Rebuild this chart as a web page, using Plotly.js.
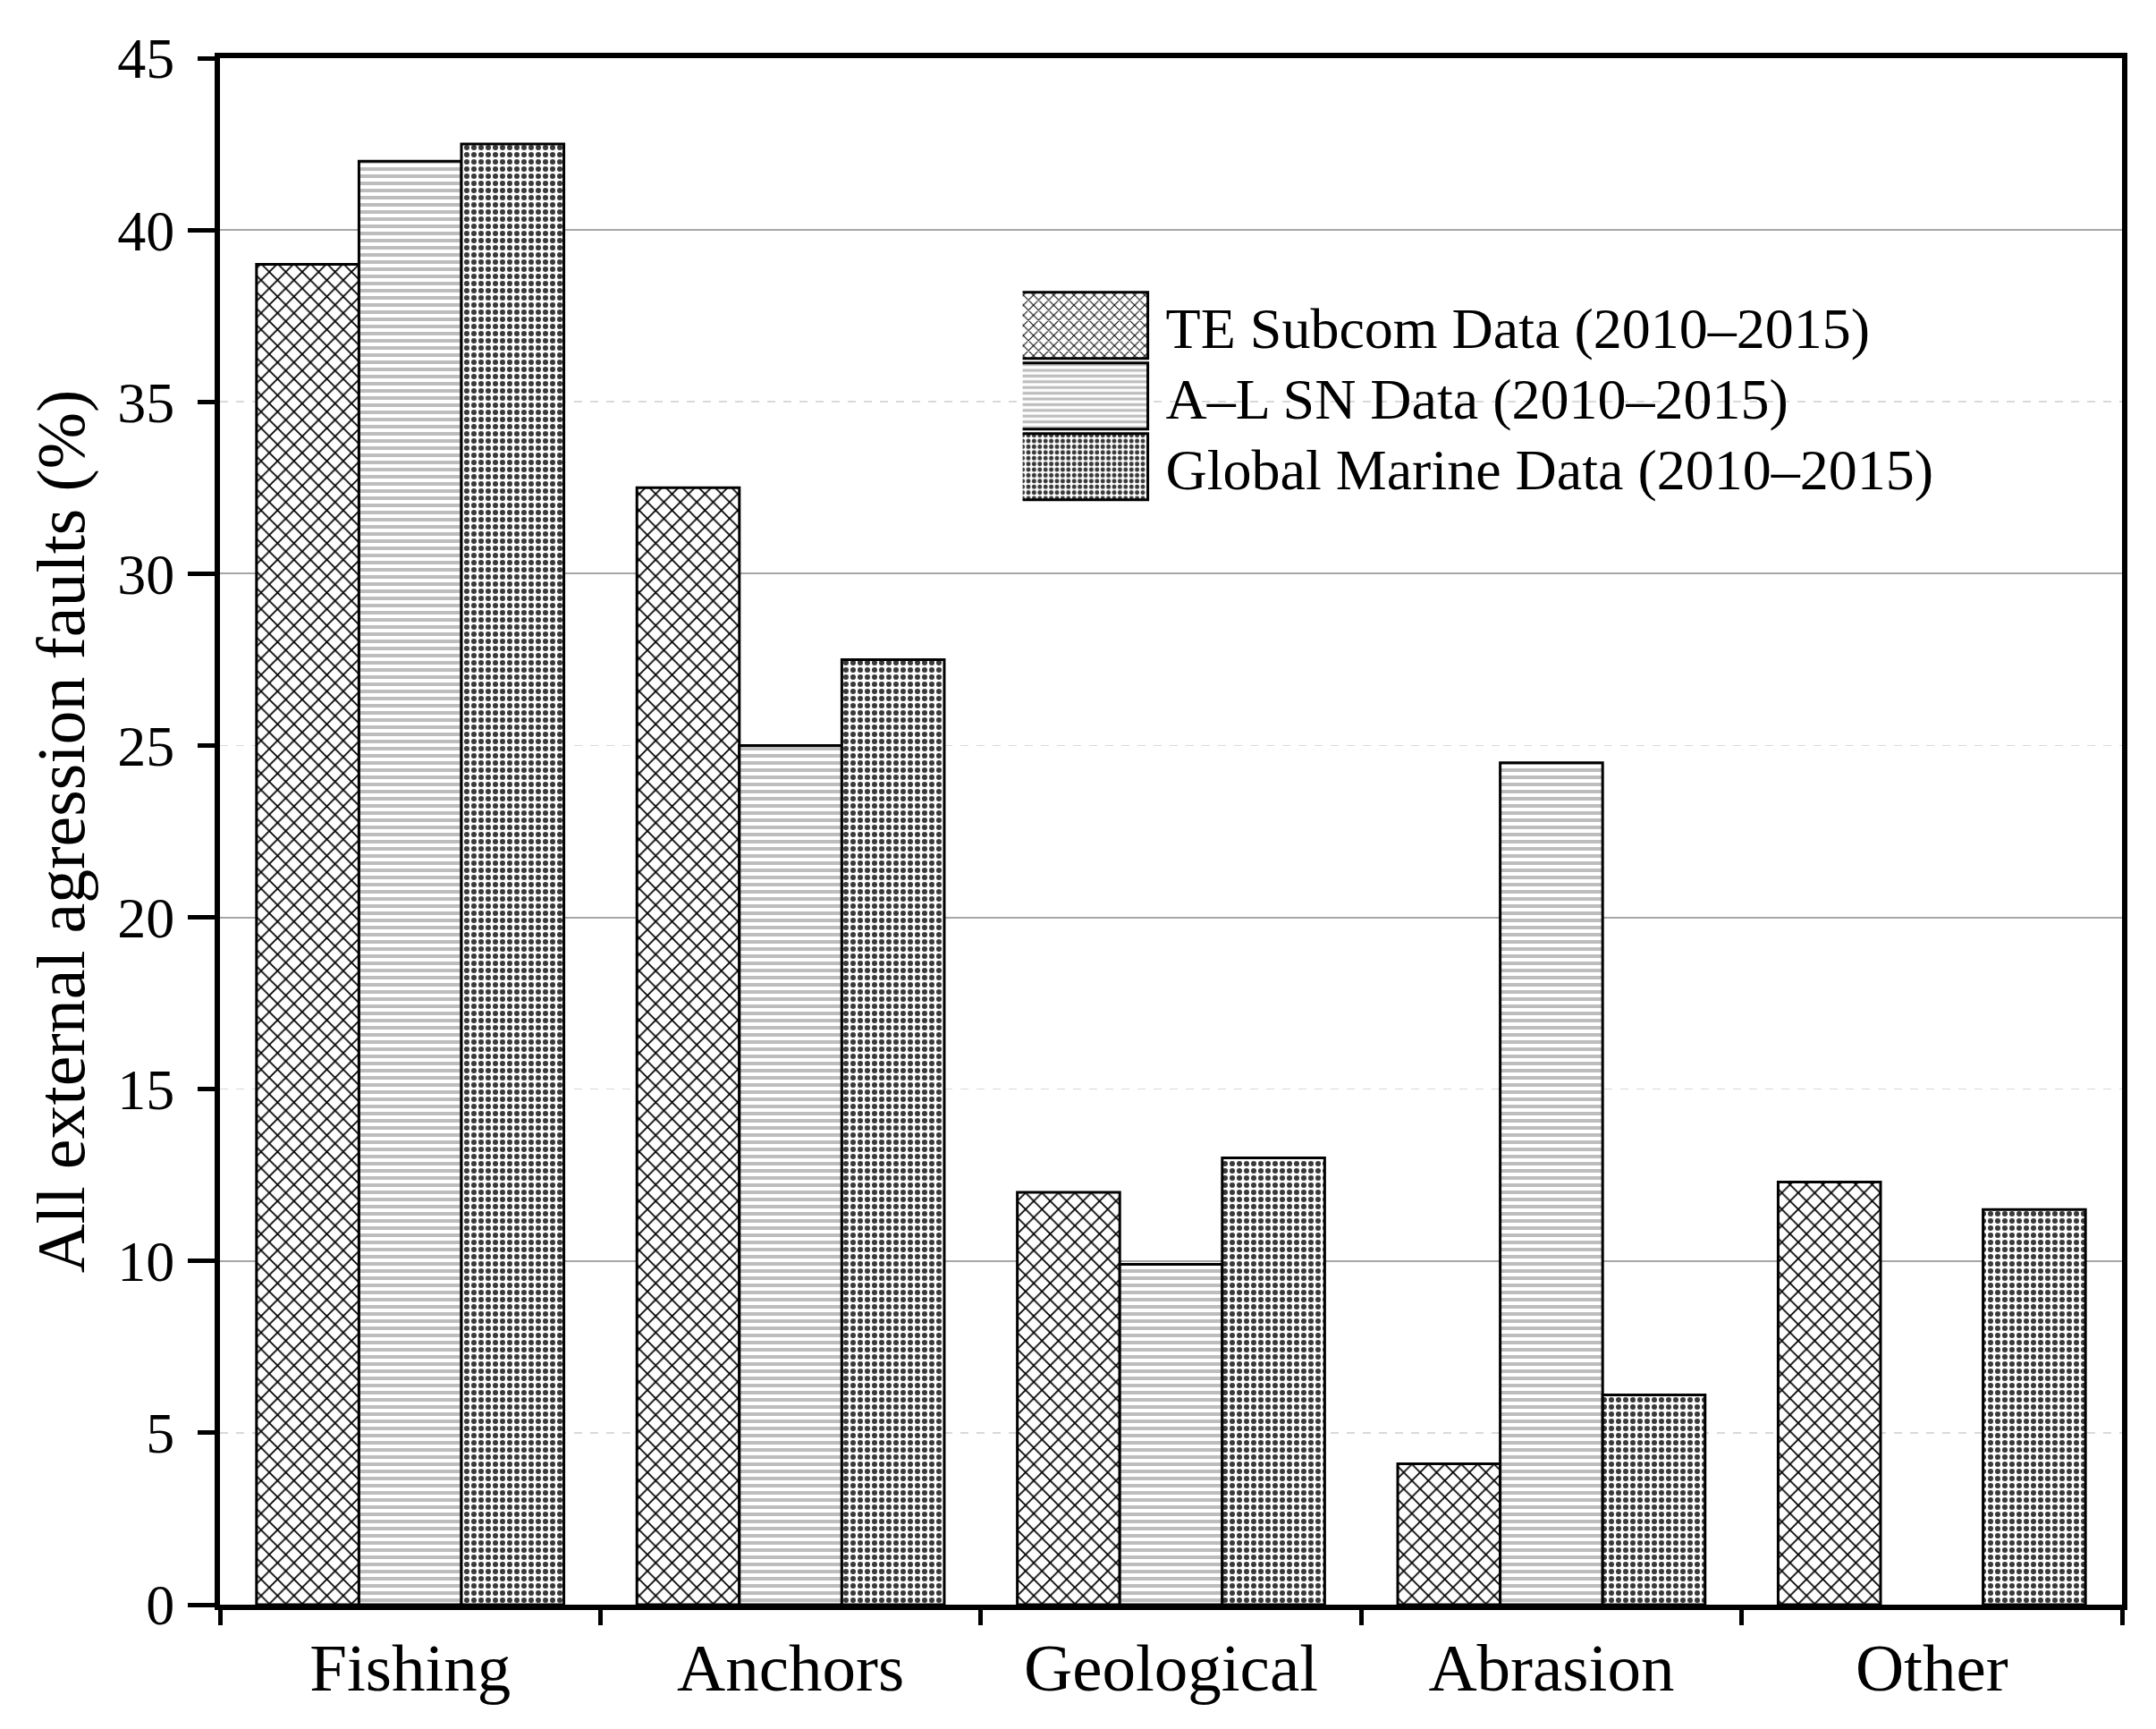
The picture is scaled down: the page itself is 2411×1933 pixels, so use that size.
<!DOCTYPE html>
<html>
<head>
<meta charset="utf-8">
<script src="https://cdn.plot.ly/plotly-3.0.1.min.js"></script>
<style>
  html, body { margin: 0; padding: 0; background: #ffffff; }
  #chart { width: 2411px; height: 1933px; }
</style>
</head>
<body>
<div id="chart"></div>
<script>
// ---- data ----
const categories = ['Fishing', 'Anchors', 'Geological', 'Abrasion', 'Other'];
const seriesNames = ['TE Subcom Data (2010\u20132015)', 'A\u2013L SN Data (2010\u20132015)', 'Global Marine Data (2010\u20132015)'];
const teSubcom = [39, 32.5, 12, 4.1, 12.3];
const alSN = [42, 25, 9.9, 24.5, null];
const globalMarine = [42.5, 27.5, 13, 6.1, 11.5];
const yLabelTicks = [0, 5, 10, 15, 20, 25, 30, 35, 40, 45];
const yMajorTicks = [0, 10, 20, 30, 40];
const yTitle = 'All external agression faults (%)';

const FONT = 'Liberation Serif, Times New Roman, serif';

const patterns = [
  { shape: 'x', fgcolor: '#000000', bgcolor: '#ffffff', size: 13, solidity: 0.25 },
  { shape: '-', fgcolor: '#bdbdbd', bgcolor: '#ffffff', size: 8, solidity: 0.5 },
  { shape: '.', fgcolor: '#3a3a3a', bgcolor: '#ffffff', size: 8, solidity: 0.45 }
];
const seriesValues = [teSubcom, alSN, globalMarine];

const traces = seriesValues.map((vals, i) => ({
  type: 'bar',
  name: seriesNames[i],
  x: categories,
  y: vals,
  marker: {
    color: '#ffffff',
    pattern: patterns[i],
    line: { color: '#000000', width: 3 }
  },
  hoverinfo: 'x+y+name'
}));

// empty helper trace so the overlay axis (long major ticks + grid) is drawn
traces.push({ type: 'scatter', x: [], y: [], yaxis: 'y2', showlegend: false, hoverinfo: 'skip' });

const layout = {
  width: 2411,
  height: 1933,
  paper_bgcolor: '#ffffff',
  plot_bgcolor: '#ffffff',
  margin: { l: 246, r: 38, t: 65, b: 139 },
  font: { family: FONT, color: '#000000' },
  barmode: 'group',
  bargap: 0.192,
  bargroupgap: 0,
  showlegend: true,
  legend: {
    x: 0.422, xanchor: 'left',
    y: 0.855, yanchor: 'top',
    font: { family: FONT, size: 64, color: '#000000' },
    bgcolor: 'rgba(255,255,255,0)',
    borderwidth: 0,
    itemwidth: 150,
    tracegroupgap: 0
  },
  xaxis: {
    type: 'category',
    range: [-0.5, 4.5],
    tickson: 'boundaries',
    ticks: 'outside',
    ticklen: 17,
    tickwidth: 5,
    tickcolor: '#000000',
    showline: true,
    linewidth: 6,
    linecolor: '#000000',
    mirror: true,
    showgrid: false,
    zeroline: false,
    tickfont: { family: FONT, size: 75, color: '#000000' },
    ticklabelstandoff: 0
  },
  yaxis: {
    range: [0, 45],
    tickmode: 'array',
    tickvals: yLabelTicks,
    ticktext: yLabelTicks.map(String),
    ticks: 'outside',
    ticklen: 19,
    tickwidth: 5,
    tickcolor: '#000000',
    showline: true,
    linewidth: 6,
    linecolor: '#000000',
    mirror: true,
    showgrid: false,
    zeroline: false,
    tickfont: { family: FONT, size: 64, color: '#000000' },
    ticklabelstandoff: 13,
    title: { text: yTitle, font: { family: FONT, size: 76, color: '#000000' }, standoff: 14 }
  },
  yaxis2: {
    overlaying: 'y',
    side: 'left',
    range: [0, 45],
    tickmode: 'array',
    tickvals: yMajorTicks,
    ticks: 'outside',
    ticklen: 35,
    tickwidth: 5,
    tickcolor: '#000000',
    showticklabels: false,
    showline: false,
    zeroline: false,
    showgrid: true,
    gridcolor: '#a6a6a6',
    gridwidth: 2,
    minor: {
      tickmode: 'array',
      tickvals: [5, 15, 25, 35],
      ticks: '',
      showgrid: true,
      gridcolor: '#d9d9d9',
      gridwidth: 1.5,
      griddash: 'dash'
    },
    layer: 'below traces'
  }
};

Plotly.newPlot('chart', traces, layout, { staticPlot: true, displayModeBar: false }).then(gd => {
  const items = Array.from(gd.querySelectorAll('.legend .traces'));
  // tighten row pitch to match the reference
  const pitch = 79;
  let y0 = null;
  items.forEach((item, i) => {
    const tr = item.getAttribute('transform') || '';
    const m = tr.match(/translate\(\s*([-\d.]+)[ ,]+([-\d.]+)\s*\)/);
    if (!m) return;
    const x = parseFloat(m[1]);
    const y = parseFloat(m[2]);
    if (y0 === null) y0 = y;
    item.setAttribute('transform', 'translate(' + x + ',' + (y0 + i * pitch) + ')');
  });
  // enlarge legend swatches to match the reference's wide rectangles
  items.forEach(item => {
    const txt = item.querySelector('text.legendtext');
    const path = item.querySelector('.legendpoints path');
    if (!txt || !path) return;
    const tb = txt.getBoundingClientRect();
    const pb = path.getBoundingClientRect();
    const curCx = pb.left + pb.width / 2;
    const w = 146, h = 74;
    const desiredCx = tb.left - 20 - w / 2;
    const dx = desiredCx - curCx;
    path.setAttribute('d', 'M' + (dx - w / 2) + ',' + (-h / 2) + 'H' + (dx + w / 2) + 'V' + (h / 2) + 'H' + (dx - w / 2) + 'Z');
    path.style.strokeWidth = '3px';
  });
});
</script>
</body>
</html>
